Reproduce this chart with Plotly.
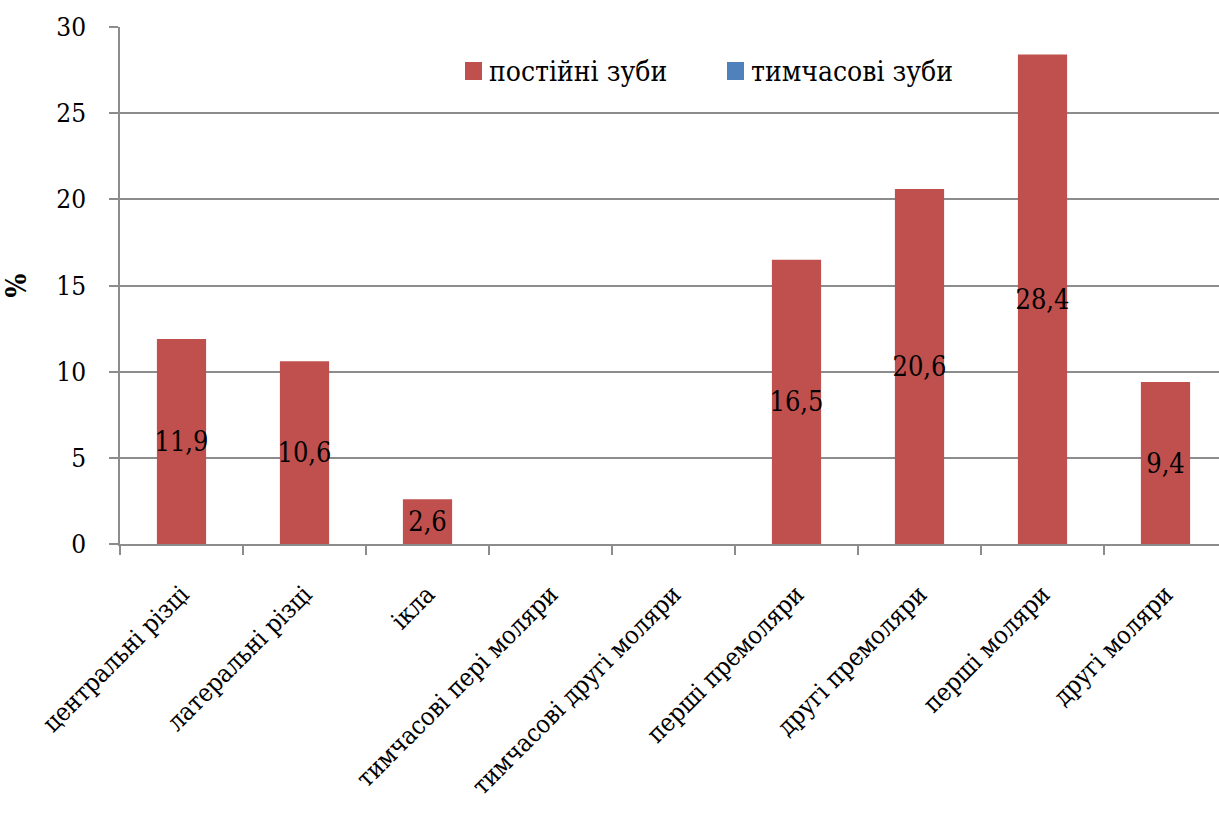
import plotly.graph_objects as go

# Categories of teeth and share of cases (%)
categories = [
    "центральні різці",
    "латеральні різці",
    "ікла",
    "тимчасові пері моляри",
    "тимчасові другі моляри",
    "перші премоляри",
    "другі премоляри",
    "перші моляри",
    "другі моляри",
]
permanent = [11.9, 10.6, 2.6, None, None, 16.5, 20.6, 28.4, 9.4]
temporary = [None, None, None, None, None, None, None, None, None]

series_names = ["постійні зуби", "тимчасові зуби"]
y_ticks = [0, 5, 10, 15, 20, 25, 30]

FONT = "DejaVu Serif Condensed, DejaVu Serif"
RED = "#C0504D"
BLUE = "#4F81BD"
GRID = "#8C8C8C"

# plot area in pixels: x 120..1219, y 27..544
PX_L, PX_R, PX_T, PX_B = 120, 1219, 27, 544


def fmt(v):
    return "" if v is None else f"{v:.1f}".replace(".", ",")


def px_x(p):
    return (p - PX_L) / (PX_R - PX_L)


def px_y(p):
    return (PX_B - p) / (PX_B - PX_T)


fig = go.Figure()
fig.add_trace(go.Bar(
    x=categories, y=permanent, name=series_names[0],
    marker=dict(color=RED, line=dict(width=0)),
    width=0.4,
    text=[fmt(v) for v in permanent],
    textposition="inside", insidetextanchor="middle", textangle=0,
    insidetextfont=dict(family=FONT, size=27, color="black"),
    cliponaxis=False, showlegend=False,
))
fig.add_trace(go.Bar(
    x=categories, y=temporary, name=series_names[1],
    marker=dict(color=BLUE), width=0.4, showlegend=False,
))

# legend: coloured squares with series names
legend_items = [(series_names[0], RED, 465), (series_names[1], BLUE, 727)]
for name, color, left in legend_items:
    fig.add_shape(
        type="rect", xref="paper", yref="paper",
        x0=px_x(left), x1=px_x(left + 17), y0=px_y(80), y1=px_y(62),
        fillcolor=color, line=dict(width=0),
    )
    fig.add_annotation(
        xref="paper", yref="paper", x=px_x(left + 22), y=px_y(71),
        xanchor="left", yanchor="middle", text=name, showarrow=False,
        font=dict(family=FONT, size=28, color="black"),
    )

fig.update_layout(
    width=1219, height=813,
    margin=dict(l=PX_L, r=1219 - PX_R, t=PX_T, b=813 - PX_B, autoexpand=False),
    paper_bgcolor="white", plot_bgcolor="white",
    font=dict(family=FONT, size=27, color="black"),
    barmode="overlay",
    uniformtext=dict(mode="show", minsize=27),
    showlegend=False,
)

fig.update_xaxes(
    type="category", automargin=False,
    range=[-0.5, 8.435],
    tickson="boundaries", ticks="outside", ticklen=9, tickwidth=1.5, tickcolor=GRID,
    showline=True, linecolor=GRID, linewidth=1.5,
    showgrid=False, tickangle=-45,
    ticklabelstandoff=24,
    tickfont=dict(family=FONT, size=25, color="black"),
)
fig.update_yaxes(
    range=[0, 30], tickvals=y_ticks, automargin=False,
    ticks="outside", ticklen=9, tickwidth=1.5, tickcolor=GRID,
    showline=True, linecolor=GRID, linewidth=1.5,
    showgrid=True, gridcolor=GRID, gridwidth=1.5,
    zeroline=False,
    ticklabelstandoff=18,
    tickfont=dict(family=FONT, size=26, color="black"),
    title=dict(text="<b>%</b>", font=dict(family=FONT, size=28, color="black"), standoff=36),
)

fig.write_html("out.html")
